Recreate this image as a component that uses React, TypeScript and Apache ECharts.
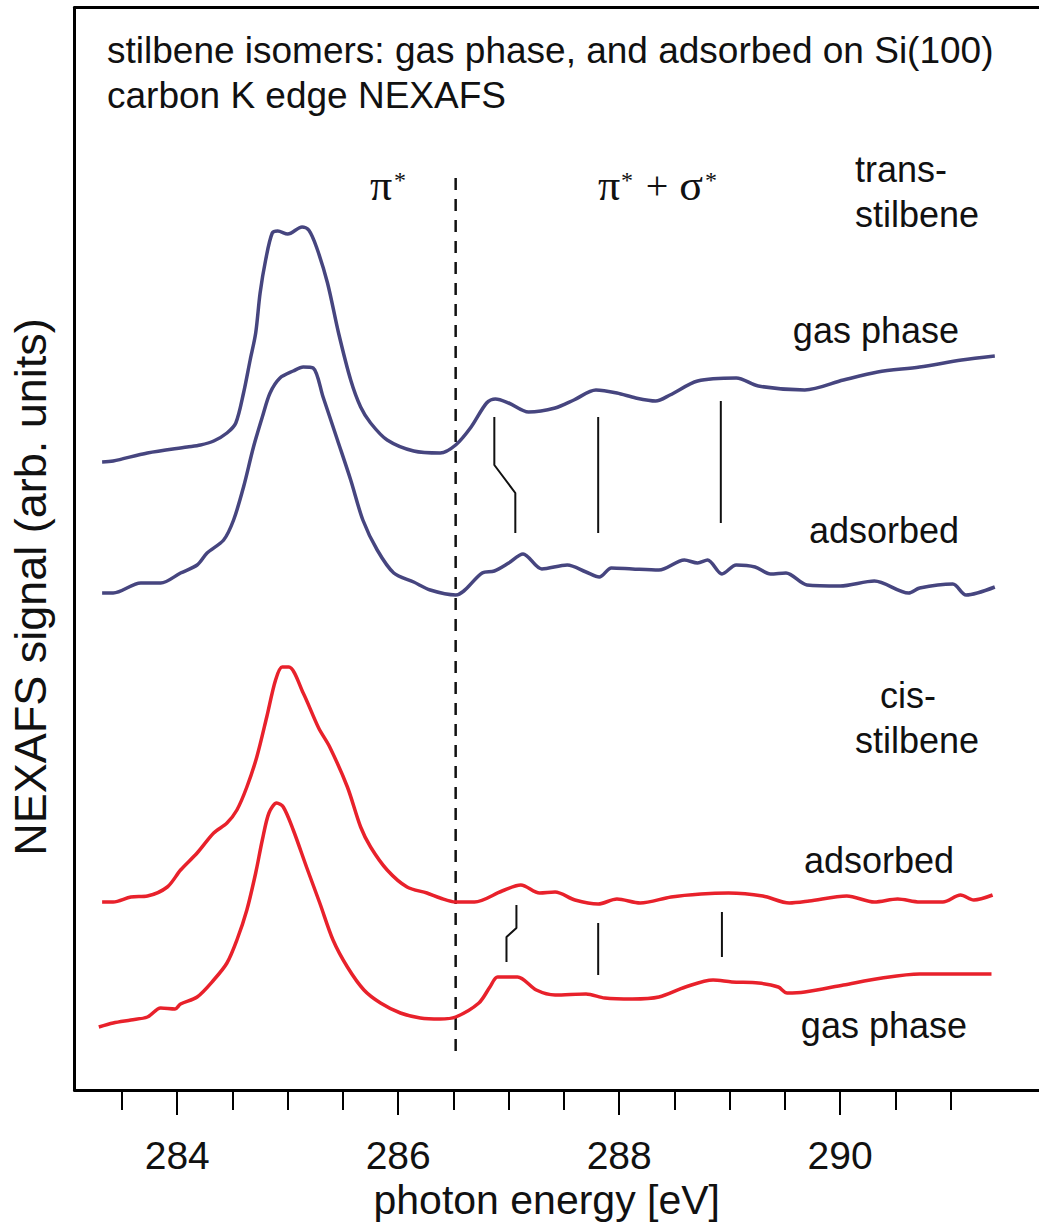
import React, { useEffect, useRef } from "react";
import * as echarts from "echarts";

// ---------- data (photon energy [eV], NEXAFS signal [arb. units]) ----------
const transGas: [number, number][] = [
  [283.32, 6.28], [283.42, 6.29], [283.73, 6.37], [284.09, 6.43], [284.21, 6.45],
  [284.33, 6.49], [284.45, 6.57], [284.53, 6.67], [284.6, 6.97], [284.66, 7.3],
  [284.71, 7.57], [284.75, 7.97], [284.8, 8.3], [284.86, 8.57], [284.91, 8.59],
  [285.0, 8.56], [285.13, 8.63], [285.19, 8.6], [285.26, 8.43], [285.36, 8.07],
  [285.46, 7.57], [285.57, 7.1], [285.66, 6.83], [285.75, 6.67], [285.9, 6.5],
  [286.14, 6.39], [286.38, 6.37], [286.52, 6.45], [286.66, 6.63], [286.8, 6.87],
  [286.88, 6.91], [287.0, 6.87], [287.18, 6.78], [287.42, 6.82], [287.59, 6.9],
  [287.79, 7.0], [287.98, 6.97], [288.15, 6.92], [288.33, 6.89], [288.46, 6.95],
  [288.71, 7.09], [289.06, 7.12], [289.26, 7.04], [289.68, 7.0], [290.03, 7.1],
  [290.34, 7.18], [290.72, 7.23], [291.1, 7.3], [291.4, 7.34],
];

const transAdsorbed: [number, number][] = [
  [283.32, 4.97], [283.42, 4.97], [283.67, 5.07], [283.85, 5.07], [284.03, 5.17],
  [284.18, 5.25], [284.27, 5.37], [284.42, 5.5], [284.51, 5.7], [284.6, 6.03],
  [284.69, 6.43], [284.77, 6.73], [284.84, 6.97], [284.93, 7.12], [285.05, 7.19],
  [285.14, 7.23], [285.23, 7.22], [285.32, 6.93], [285.45, 6.5], [285.57, 6.1],
  [285.68, 5.7], [285.81, 5.4], [285.96, 5.17], [286.14, 5.08], [286.29, 5.0],
  [286.52, 4.95], [286.76, 5.17], [286.87, 5.19], [287.0, 5.27], [287.13, 5.36],
  [287.3, 5.21], [287.53, 5.25], [287.7, 5.18], [287.82, 5.13], [287.93, 5.22],
  [288.12, 5.21], [288.36, 5.2], [288.59, 5.3], [288.71, 5.27], [288.8, 5.3],
  [288.93, 5.16], [289.06, 5.25], [289.23, 5.23], [289.37, 5.16], [289.51, 5.17],
  [289.7, 5.05], [290.0, 5.04], [290.31, 5.09], [290.62, 4.97], [290.72, 5.02],
  [291.02, 5.06], [291.14, 4.95], [291.4, 5.03],
];

const cisAdsorbed: [number, number][] = [
  [283.32, 1.88], [283.42, 1.88], [283.58, 1.93], [283.73, 1.94], [283.91, 2.03],
  [284.03, 2.2], [284.18, 2.37], [284.33, 2.57], [284.45, 2.67], [284.54, 2.8],
  [284.63, 3.03], [284.72, 3.33], [284.81, 3.73], [284.89, 4.1], [284.95, 4.23],
  [285.01, 4.23], [285.14, 3.97], [285.28, 3.62], [285.38, 3.43], [285.54, 3.03],
  [285.66, 2.63], [285.75, 2.43], [285.9, 2.2], [286.08, 2.03], [286.26, 1.97],
  [286.38, 1.92], [286.52, 1.88], [286.69, 1.88], [286.94, 1.99], [287.11, 2.05],
  [287.28, 1.97], [287.42, 1.98], [287.6, 1.9], [287.81, 1.86], [287.98, 1.91],
  [288.19, 1.87], [288.47, 1.93], [288.74, 1.96], [288.99, 1.97], [289.3, 1.94],
  [289.54, 1.87], [289.72, 1.89], [290.06, 1.94], [290.31, 1.88], [290.52, 1.91],
  [290.72, 1.88], [290.93, 1.88], [291.09, 1.95], [291.21, 1.9], [291.38, 1.95],
];

const cisGas: [number, number][] = [
  [283.29, 0.63], [283.42, 0.67], [283.58, 0.7], [283.73, 0.73], [283.85, 0.82],
  [283.98, 0.81], [284.03, 0.86], [284.18, 0.93], [284.33, 1.1], [284.45, 1.27],
  [284.54, 1.5], [284.63, 1.8], [284.71, 2.17], [284.77, 2.5], [284.83, 2.77],
  [284.9, 2.87], [284.96, 2.83], [285.05, 2.6], [285.17, 2.23], [285.29, 1.87],
  [285.41, 1.5], [285.54, 1.23], [285.69, 1.0], [285.84, 0.87], [286.02, 0.77],
  [286.2, 0.72], [286.38, 0.71], [286.52, 0.73], [286.73, 0.87], [286.83, 1.03],
  [286.9, 1.13], [287.08, 1.13], [287.25, 1.0], [287.42, 0.95], [287.7, 0.96],
  [287.87, 0.92], [288.12, 0.91], [288.36, 0.93], [288.6, 1.03], [288.85, 1.1],
  [289.02, 1.08], [289.26, 1.07], [289.44, 1.03], [289.52, 0.97], [289.68, 0.98],
  [290.03, 1.05], [290.38, 1.12], [290.72, 1.16], [291.07, 1.16], [291.37, 1.16],
];

// resonance marker sticks (energy, signal)
const transMarkers: [number, number][][] = [
  [[286.87, 6.73], [286.87, 6.25], [287.06, 5.97], [287.06, 5.57]],
  [[287.81, 6.73], [287.81, 5.57]],
  [[288.92, 6.89], [288.92, 5.67]],
];
const cisMarkers: [number, number][][] = [
  [[287.07, 1.85], [287.07, 1.62], [286.98, 1.53], [286.98, 1.28]],
  [[287.81, 1.67], [287.81, 1.15]],
  [[288.93, 1.78], [288.93, 1.33]],
];
const edgeLine: [number, number][] = [[286.52, 9.12], [286.52, 0.38]];

const X_MIN = 283.07;
const X_MAX = 291.8;
const Y_MIN = 0;
const Y_MAX = 10.825;
const minorTicks = [283.5, 284, 284.5, 285, 285.5, 286, 286.5, 287, 287.5, 288, 288.5, 289, 289.5, 290, 290.5, 291];
const majorTicks = [284, 286, 288, 290];

const TRANS_COLOR = "#46457f";
const CIS_COLOR = "#e8212b";
const SANS = "'Liberation Sans', Arial, Helvetica, sans-serif";
const SERIF = "'Liberation Serif', 'Times New Roman', serif";

export default function App() {
  const ref = useRef<HTMLDivElement>(null);
  useEffect(() => {
    if (!ref.current) return;
    const chart = echarts.init(ref.current, null, { renderer: "svg" });

    const curve = (name: string, data: [number, number][], color: string) => ({
      name,
      type: "line",
      data,
      showSymbol: false,
      smooth: 0.3,
      lineStyle: { color, width: 3.5 },
      xAxisIndex: 0,
      yAxisIndex: 0,
      z: 3,
    });
    const stick = (name: string, data: [number, number][]) => ({
      name,
      type: "line",
      data,
      showSymbol: false,
      smooth: false,
      lineStyle: { color: "#111", width: 2 },
      z: 4,
    });

    const blackLine = { color: "#000", width: 3 };
    const txt = (text: string, x: number, y: number, size: number, align = "left", family = SANS) => ({
      type: "text",
      x,
      y,
      style: {
        text,
        font: `${size}px ${family}`,
        fill: "#111",
        textAlign: align,
        textVerticalAlign: "middle",
      },
    });

    chart.setOption({
      animation: false,
      backgroundColor: "#fff",
      grid: { left: 74.5, right: 0, top: 7.5, bottom: 139 },
      xAxis: [
        {
          type: "value",
          min: X_MIN,
          max: X_MAX,
          position: "bottom",
          axisLine: { show: true, onZero: false, lineStyle: blackLine },
          axisTick: { show: true, customValues: minorTicks, length: 20, lineStyle: { color: "#000", width: 2 } },
          axisLabel: {
            show: true,
            customValues: majorTicks,
            fontSize: 39,
            fontFamily: SANS,
            color: "#111",
            margin: 46,
          },
          splitLine: { show: false },
          name: "photon energy [eV]",
          nameLocation: "middle",
          nameGap: 86,
          nameTextStyle: { fontSize: 41, fontFamily: SANS, color: "#111", padding: [0, 20, 0, 0] },
        },
        {
          type: "value",
          min: X_MIN,
          max: X_MAX,
          position: "bottom",
          axisLine: { show: false },
          axisTick: { show: true, customValues: majorTicks, length: 25, lineStyle: { color: "#000", width: 2 } },
          axisLabel: { show: false },
          splitLine: { show: false },
        },
        {
          type: "value",
          min: X_MIN,
          max: X_MAX,
          position: "top",
          axisLine: { show: true, onZero: false, lineStyle: blackLine },
          axisTick: { show: false },
          axisLabel: { show: false },
          splitLine: { show: false },
        },
      ],
      yAxis: {
        type: "value",
        min: Y_MIN,
        max: Y_MAX,
        axisLine: { show: true, onZero: false, lineStyle: blackLine },
        axisTick: { show: false },
        axisLabel: { show: false },
        splitLine: { show: false },
      },
      series: [
        curve("trans-stilbene gas phase", transGas, TRANS_COLOR),
        curve("trans-stilbene adsorbed", transAdsorbed, TRANS_COLOR),
        curve("cis-stilbene adsorbed", cisAdsorbed, CIS_COLOR),
        curve("cis-stilbene gas phase", cisGas, CIS_COLOR),
        ...transMarkers.map((m, i) => stick(`trans marker ${i + 1}`, m)),
        ...cisMarkers.map((m, i) => stick(`cis marker ${i + 1}`, m)),
        {
          name: "pi* edge",
          type: "line",
          data: edgeLine,
          showSymbol: false,
          lineStyle: { color: "#111", width: 2.5, type: [12, 9] },
          z: 2,
        },
      ],
      graphic: [
        txt("stilbene isomers: gas phase, and adsorbed on Si(100)", 107, 50.5, 37),
        txt("carbon K edge NEXAFS", 107, 95.5, 37),
        txt("π", 381, 185, 44, "center", SERIF),
        txt("*", 400, 180, 24, "center", SERIF),
        txt("π", 609, 185, 44, "center", SERIF),
        txt("*", 627, 180, 24, "center", SERIF),
        txt("+", 657, 185, 40, "center", SERIF),
        txt("σ", 691, 185, 44, "center", SERIF),
        txt("*", 711, 180, 24, "center", SERIF),
        txt("trans-", 855, 169.5, 36),
        txt("stilbene", 855, 214.5, 36),
        txt("gas phase", 959, 330.5, 36, "right"),
        txt("adsorbed", 959, 530.5, 36, "right"),
        txt("cis-", 880, 695.5, 36),
        txt("stilbene", 855, 740.5, 36),
        txt("adsorbed", 954, 860.5, 36, "right"),
        txt("gas phase", 967, 1025.5, 36, "right"),
        {
          type: "text",
          x: 30,
          y: 587,
          rotation: Math.PI / 2,
          style: {
            text: "NEXAFS signal (arb. units)",
            font: `45px ${SANS}`,
            fill: "#111",
            textAlign: "center",
            textVerticalAlign: "middle",
          },
        },
      ],
    });
    return () => chart.dispose();
  }, []);

  return (
    <div
      ref={ref}
      style={{ position: "absolute", left: 0, top: 0, width: 1039, height: 1229 }}
    />
  );
}
